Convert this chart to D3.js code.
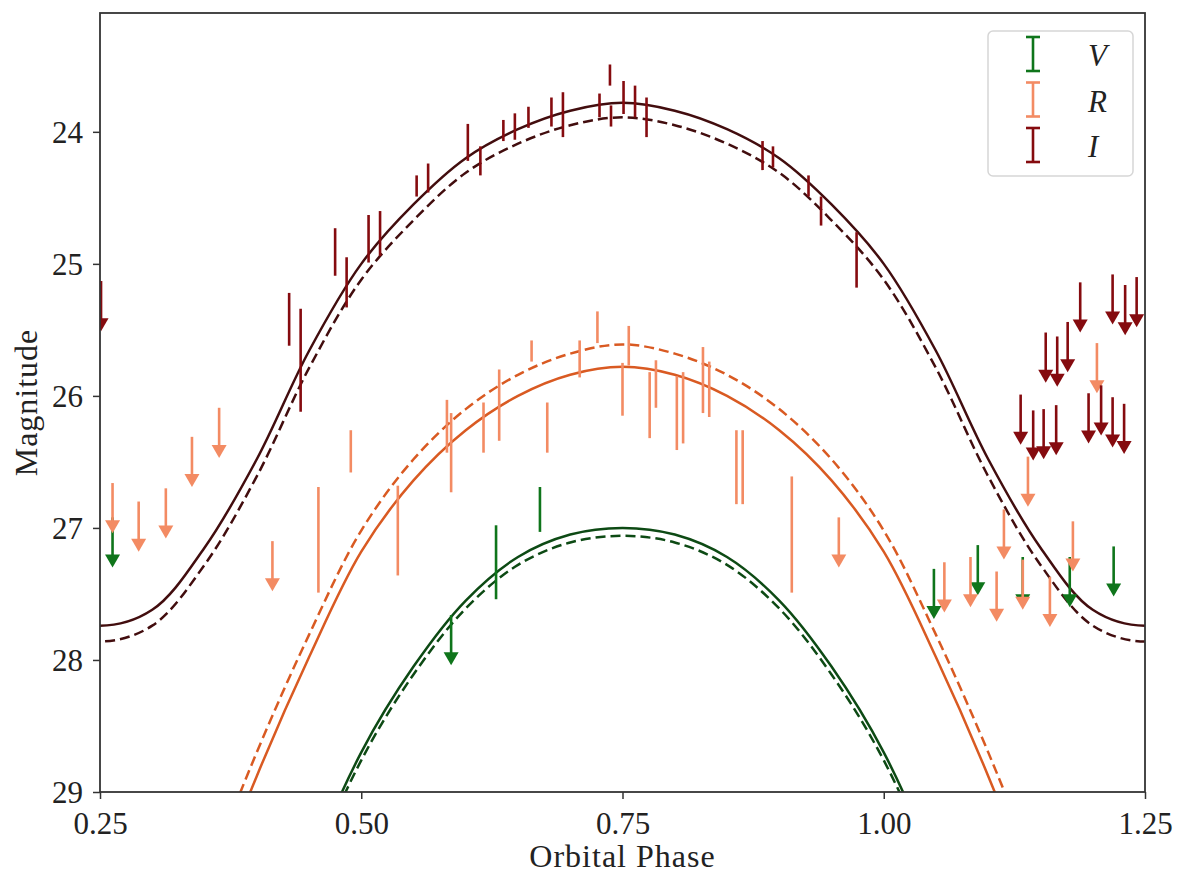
<!DOCTYPE html>
<html>
<head>
<meta charset="utf-8">
<script src="https://cdn.jsdelivr.net/npm/d3@7"></script>
<style>
  body { margin: 0; background: #fff; }
  svg { display: block; }
</style>
</head>
<body>
<svg id="chart" width="1177" height="874"></svg>
<script>
// model curves, sampled every 0.05 in phase (one step past each edge, clipped)
const curvePhase = [0.20, 0.25, 0.30, 0.35, 0.40, 0.45, 0.50, 0.55, 0.60, 0.65, 0.70, 0.75,
                    0.80, 0.85, 0.90, 0.95, 1.00, 1.05, 1.10, 1.15, 1.20, 1.25, 1.30];
const iModel     = [27.62, 27.74, 27.62, 27.15, 26.48, 25.66, 25.00, 24.55, 24.20, 23.98, 23.84, 23.78,
                    23.84, 23.98, 24.20, 24.55, 25.00, 25.66, 26.48, 27.15, 27.62, 27.74, 27.62];
const iModelAlt  = [27.74, 27.86, 27.74, 27.28, 26.61, 25.79, 25.12, 24.67, 24.31, 24.09, 23.95, 23.89,
                    23.95, 24.09, 24.31, 24.67, 25.12, 25.79, 26.61, 27.28, 27.74, 27.86, 27.74];
const rModel     = [31.0, 32.0, 31.0, 29.9, 28.88, 27.98, 27.18, 26.64, 26.26, 26.00, 25.84, 25.78,
                    25.84, 26.00, 26.26, 26.64, 27.18, 27.98, 28.88, 29.9, 31.0, 32.0, 31.0];
const rModelAlt  = [30.8, 31.8, 30.8, 29.7, 28.70, 27.81, 27.02, 26.48, 26.10, 25.84, 25.68, 25.61,
                    25.68, 25.84, 26.10, 26.48, 27.02, 27.81, 28.70, 29.7, 30.8, 31.8, 30.8];
const vModel     = [33.6, 35.0, 33.6, 32.2, 30.8, 29.6, 28.70, 28.05, 27.55, 27.22, 27.05, 27.00,
                    27.05, 27.22, 27.55, 28.05, 28.70, 29.6, 30.8, 32.2, 33.6, 35.0, 33.6];
const vModelAlt  = [33.7, 35.1, 33.7, 32.3, 30.9, 29.66, 28.76, 28.11, 27.61, 27.28, 27.11, 27.06,
                    27.11, 27.28, 27.61, 28.11, 28.76, 29.66, 30.9, 32.3, 33.7, 35.1, 33.7];

// V band detections and upper limits
const vPhase = [0.629, 0.671];
const vMag   = [27.26, 26.86];
const vErr   = [0.28, 0.17];
const vLimPhase = [0.262, 0.586, 1.048, 1.090, 1.133, 1.178, 1.220];
const vLimMag   = [26.92, 27.66, 27.31, 27.13, 27.22, 27.22, 27.14];

// R band
const rPhase = [0.459, 0.490, 0.535, 0.582, 0.586, 0.617, 0.632, 0.663, 0.678, 0.709, 0.726,
                0.750, 0.756, 0.776, 0.782, 0.802, 0.808, 0.827, 0.833, 0.859, 0.865, 0.912];
const rMag   = [27.09, 26.42, 27.02, 26.23, 26.43, 26.24, 26.07, 25.66, 26.24, 25.72, 25.48,
                25.95, 25.62, 26.07, 25.91, 26.13, 26.09, 25.88, 25.95, 26.54, 26.54, 27.05];
const rErr   = [0.40, 0.16, 0.34, 0.20, 0.30, 0.19, 0.27, 0.08, 0.19, 0.14, 0.12,
                0.20, 0.15, 0.25, 0.18, 0.28, 0.27, 0.25, 0.21, 0.28, 0.28, 0.44];
const rLimPhase = [0.262, 0.287, 0.313, 0.338, 0.364, 0.415, 0.957, 1.058, 1.083, 1.108,
                   1.115, 1.133, 1.138, 1.159, 1.181, 1.204];
const rLimMag   = [26.66, 26.80, 26.70, 26.31, 26.09, 27.10, 26.92, 27.26, 27.22, 27.33,
                   26.86, 27.24, 26.46, 27.37, 26.95, 25.60];

// I band
const iPhase = [0.431, 0.442, 0.475, 0.486, 0.507, 0.518, 0.553, 0.564, 0.602, 0.614, 0.636,
                0.647, 0.660, 0.682, 0.693, 0.728, 0.738, 0.739, 0.751, 0.762, 0.773,
                0.884, 0.894, 0.928, 0.940, 0.974];
const iMag   = [25.42, 25.73, 24.91, 25.14, 24.81, 24.77, 24.41, 24.35, 24.08, 24.22, 23.99,
                23.96, 23.89, 23.85, 23.87, 23.80, 23.57, 23.88, 23.74, 23.77, 23.89,
                24.18, 24.19, 24.41, 24.60, 24.97];
const iErr   = [0.20, 0.39, 0.18, 0.19, 0.18, 0.17, 0.08, 0.11, 0.14, 0.11, 0.08,
                0.10, 0.08, 0.11, 0.17, 0.09, 0.08, 0.08, 0.125, 0.12, 0.15,
                0.11, 0.08, 0.08, 0.11, 0.21];
const iLimPhase = [0.251, 1.131, 1.143, 1.153, 1.155, 1.165, 1.166, 1.176, 1.188, 1.196,
                   1.208, 1.219, 1.219, 1.230, 1.231, 1.242];
const iLimMag   = [25.13, 25.99, 26.11, 26.10, 25.52, 26.07, 25.55, 25.44, 25.14, 25.98,
                   25.92, 25.08, 26.01, 26.06, 25.16, 25.10];

const bands = ["V", "R", "I"];
const xTicks = [0.25, 0.50, 0.75, 1.00, 1.25];
const yTicks = [24, 25, 26, 27, 28, 29];

const dataColor  = { V: "#0f751b", R: "#f38b63", I: "#850b0f" };
const modelColor = { V: "#0d4a14", R: "#d95a22", I: "#420d0e" };
const LIM_LEN = 0.38; // arrow length in magnitudes
const FONT = "'Liberation Serif', 'Times New Roman', serif";

const svg = d3.select("#chart");
const pLeft = 100, pRight = 1145, pTop = 13, pBottom = 792;

const x = d3.scaleLinear().domain([0.25, 1.25]).range([pLeft, pRight]);
const y = d3.scaleLinear().domain([23.1, 29]).range([pTop, pBottom]);

svg.append("defs").append("clipPath").attr("id", "plotClip")
  .append("rect")
    .attr("x", pLeft).attr("y", pTop)
    .attr("width", pRight - pLeft).attr("height", pBottom - pTop);

const plot = svg.append("g").attr("clip-path", "url(#plotClip)");

// model curves
const line = d3.line()
  .x((d, i) => x(curvePhase[i]))
  .y(d => y(d))
  .curve(d3.curveCatmullRom.alpha(0.5));

function drawModel(vals, color, dashed) {
  plot.append("path")
    .attr("d", line(vals))
    .attr("fill", "none")
    .attr("stroke", color)
    .attr("stroke-width", 2.5)
    .attr("stroke-dasharray", dashed ? "10,5" : null);
}
drawModel(iModel, modelColor.I, false);
drawModel(iModelAlt, modelColor.I, true);
drawModel(rModel, modelColor.R, false);
drawModel(rModelAlt, modelColor.R, true);
drawModel(vModel, modelColor.V, false);
drawModel(vModelAlt, modelColor.V, true);

// error bars
function drawBars(ph, mag, err, color) {
  plot.append("g").selectAll("line")
    .data(ph)
    .enter().append("line")
      .attr("x1", d => x(d)).attr("x2", d => x(d))
      .attr("y1", (d, i) => y(mag[i] - err[i]))
      .attr("y2", (d, i) => y(mag[i] + err[i]))
      .attr("stroke", color)
      .attr("stroke-width", 2.6);
}

// upper limits, drawn as down arrows
function drawLimits(ph, mag, color) {
  const g = plot.append("g");
  ph.forEach((p, i) => {
    const px = x(p);
    const y0 = y(mag[i]);
    const tip = y(mag[i] + LIM_LEN);
    g.append("line")
      .attr("x1", px).attr("x2", px)
      .attr("y1", y0).attr("y2", tip - 10)
      .attr("stroke", color)
      .attr("stroke-width", 2.6);
    g.append("path")
      .attr("d", `M${px - 7.5},${tip - 13} L${px + 7.5},${tip - 13} L${px},${tip} Z`)
      .attr("fill", color);
  });
}

drawBars(vPhase, vMag, vErr, dataColor.V);
drawLimits(vLimPhase, vLimMag, dataColor.V);
drawBars(rPhase, rMag, rErr, dataColor.R);
drawLimits(rLimPhase, rLimMag, dataColor.R);
drawBars(iPhase, iMag, iErr, dataColor.I);
drawLimits(iLimPhase, iLimMag, dataColor.I);

// axes
const xAxis = d3.axisBottom(x)
  .tickValues(xTicks)
  .tickFormat(d3.format(".2f"))
  .tickSize(7)
  .tickSizeOuter(0);
const yAxis = d3.axisLeft(y)
  .tickValues(yTicks)
  .tickFormat(d3.format("d"))
  .tickSize(7)
  .tickSizeOuter(0);

const gx = svg.append("g").attr("transform", `translate(0,${pBottom})`).call(xAxis);
const gy = svg.append("g").attr("transform", `translate(${pLeft},0)`).call(yAxis);

[gx, gy].forEach(g => {
  g.select(".domain").remove();
  g.selectAll(".tick line").attr("stroke", "#333").attr("stroke-width", 1.5);
  g.selectAll(".tick text")
    .attr("fill", "#222")
    .style("font-family", FONT)
    .style("font-size", "31px");
});
gx.selectAll(".tick text").attr("y", 42).attr("dy", null);
gy.selectAll(".tick text").attr("x", -17).attr("dy", "0.34em");

// frame
svg.append("rect")
  .attr("x", pLeft).attr("y", pTop)
  .attr("width", pRight - pLeft).attr("height", pBottom - pTop)
  .attr("fill", "none")
  .attr("stroke", "#333")
  .attr("stroke-width", 1.8);

// axis titles
svg.append("text")
  .attr("x", (pLeft + pRight) / 2).attr("y", 867)
  .attr("text-anchor", "middle")
  .attr("fill", "#222")
  .style("font-family", FONT)
  .style("font-size", "32px")
  .style("letter-spacing", "1px")
  .text("Orbital Phase");

svg.append("text")
  .attr("transform", `translate(37,${(pTop + pBottom) / 2}) rotate(-90)`)
  .attr("text-anchor", "middle")
  .attr("fill", "#222")
  .style("font-family", FONT)
  .style("font-size", "32px")
  .style("letter-spacing", "1px")
  .text("Magnitude");

// legend
const legend = svg.append("g");
legend.append("rect")
  .attr("x", 988).attr("y", 31)
  .attr("width", 145).attr("height", 145)
  .attr("rx", 5)
  .attr("fill", "#fff")
  .attr("fill-opacity", 0.85)
  .attr("stroke", "#d6d6d6")
  .attr("stroke-width", 1.5);

bands.forEach((b, i) => {
  const cy = 54 + i * 45.5;
  const cx = 1033;
  const item = legend.append("g").attr("stroke", dataColor[b]).attr("stroke-width", 2.6);
  item.append("line").attr("x1", cx).attr("x2", cx).attr("y1", cy - 17).attr("y2", cy + 17);
  item.append("line").attr("x1", cx - 7).attr("x2", cx + 7).attr("y1", cy - 17).attr("y2", cy - 17);
  item.append("line").attr("x1", cx - 7).attr("x2", cx + 7).attr("y1", cy + 17).attr("y2", cy + 17);
  legend.append("text")
    .attr("x", 1088).attr("y", cy + 12)
    .attr("fill", "#222")
    .style("font-family", FONT)
    .style("font-style", "italic")
    .style("font-size", "31px")
    .text(b);
});
</script>
</body>
</html>
